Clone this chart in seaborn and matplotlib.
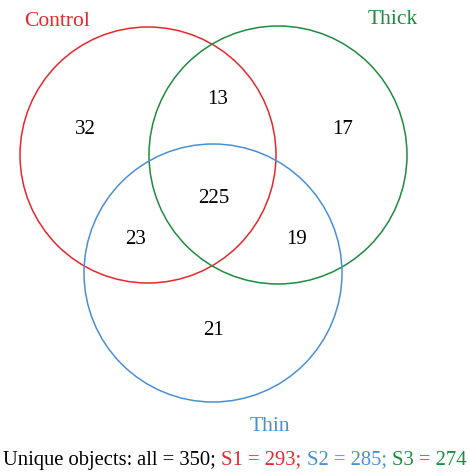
import matplotlib
matplotlib.use("Agg")
import matplotlib.pyplot as plt
from matplotlib.patches import Circle
import seaborn as sns

# ---- data ----
set_names = ["Control", "Thick", "Thin"]
region_labels = ["Control only", "Control&Thick", "Thick only", "All three",
                 "Control&Thin", "Thick&Thin", "Thin only"]
region_counts = [32, 13, 17, 225, 23, 19, 21]
summary_labels = ["all", "S1", "S2", "S3"]
summary_values = [350, 293, 285, 274]

sns.set_theme(style="white")
plt.rcParams['font.family'] = ['Liberation Serif', 'DejaVu Serif']

colors = {"Control": "#e8272b", "Thick": "#1f8b3f", "Thin": "#4a8fd6"}

W, H = 469, 473
fig = plt.figure(figsize=(W / 100, H / 100), dpi=100)
ax = fig.add_axes([0, 0, 1, 1])
ax.set_xlim(0, W)
ax.set_ylim(H, 0)
ax.axis("off")

# layout (pixel-space geometry)
circle_geom = {"Control": (148, 155, 128), "Thick": (278, 155, 129), "Thin": (213, 273, 129)}
for name in set_names:
    cx, cy, r = circle_geom[name]
    ax.add_patch(Circle((cx, cy), r, fill=False, ec=colors[name], lw=1.1))

label_pos = {"Control": (57, 21), "Thick": (393, 19), "Thin": (270, 426)}
for name in set_names:
    x, y = label_pos[name]
    ax.text(x, y, name, color=colors[name], fontsize=15.5, ha="center", va="center")

region_pos = [(85, 129), (218, 99), (343, 129), (214, 198), (136, 239), (297, 239), (213, 330)]
for (x, y), c in zip(region_pos, region_counts):
    ax.text(x, y, str(c), fontsize=15, ha="center", va="center", color="black")

# bottom summary line, multi-coloured
seg_colors = ["black", colors["Control"], colors["Thin"], colors["Thick"]]
parts = []
parts.append(("Unique objects: ", "black"))
for i, (lab, val) in enumerate(zip(summary_labels, summary_values)):
    sep = "; " if i < len(summary_labels) - 1 else ""
    parts.append((f"{lab} = {val}{sep}", seg_colors[i]))

fig.canvas.draw()
renderer = fig.canvas.get_renderer()
x = 3.0
for txt, col in parts:
    t = ax.text(x, 460, txt, fontsize=14.85, color=col, ha="left", va="center")
    bb = t.get_window_extent(renderer=renderer)
    inv = ax.transData.inverted()
    x0 = inv.transform((bb.x0, bb.y0))[0]
    x1 = inv.transform((bb.x1, bb.y0))[0]
    x += (x1 - x0)

fig.savefig("out.png", dpi=100)
